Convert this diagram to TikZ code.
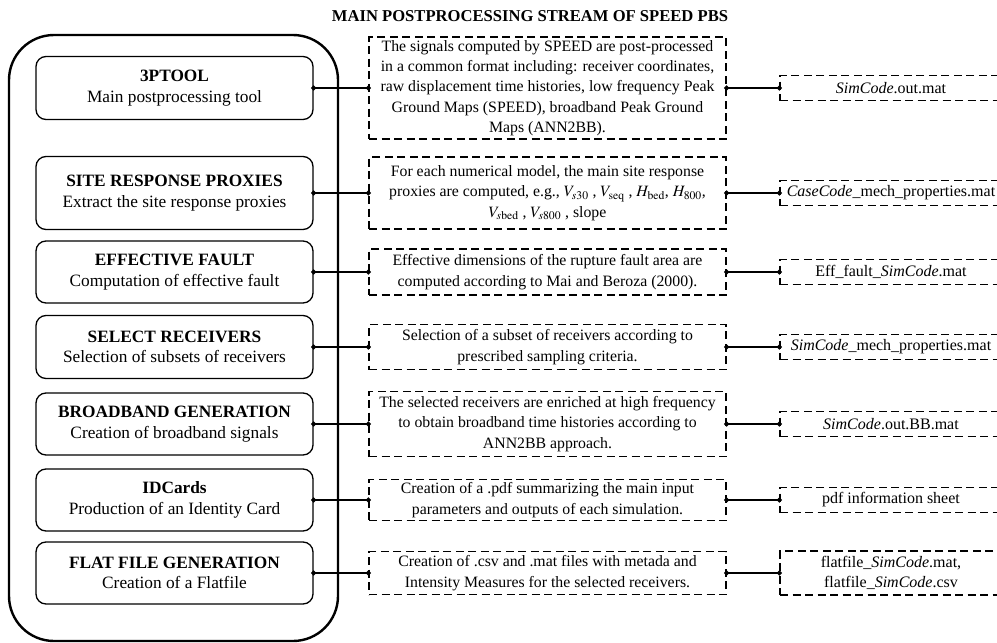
\documentclass[tikz,border=0pt]{standalone}
\usepackage{amsmath}
\usepackage{mathptmx}
\usepackage{fontspec}
\setmainfont{Liberation Serif}
\usetikzlibrary{arrows.meta}

\begin{document}
\begin{tikzpicture}[x=1pt,y=-1pt,
	tool/.style={draw, line width=1.3pt, rounded corners=10pt, minimum width=277pt, align=center, inner sep=0pt, font=\fontsize{17.3}{20.5}\selectfont},
	desc/.style={draw, dash pattern=on 8pt off 4.5pt, line width=1.2pt, minimum width=357pt, align=center, inner sep=0pt, font=\fontsize{15.8}{20.3}\selectfont},
	outfile/.style={desc, minimum width=222pt, font=\fontsize{16}{20.3}\selectfont},
	link/.style={line width=1.4pt, {Circle[length=5pt]}-{Circle[length=5pt]}, shorten <=-2.5pt, shorten >=-2.5pt}]
	\useasboundingbox (0,0) rectangle (997,643);
	\clip (0,0) rectangle (997,643);
	\node[font=\bfseries\fontsize{16.6}{18}\selectfont] (title) at (530,16) {MAIN POSTPROCESSING STREAM OF SPEED PBS};
	\draw[line width=2.4pt, rounded corners=45pt] (9,35) rectangle (338,641);
	% tools
	\node[tool, minimum height=63pt] (tool1) at (174.5,88) {\textbf{3PTOOL}\\Main postprocessing tool};
	\node[tool, minimum height=73pt] (tool2) at (174.5,193) {\textbf{SITE RESPONSE PROXIES}\\Extract the site response proxies};
	\node[tool, minimum height=62pt] (tool3) at (174.5,272) {\textbf{EFFECTIVE FAULT}\\Computation of effective fault};
	\node[tool, minimum height=63pt] (tool4) at (174.5,347) {\textbf{SELECT RECEIVERS}\\Selection of subsets of receivers};
	\node[tool, minimum height=62pt] (tool5) at (174.5,424) {\textbf{BROADBAND GENERATION}\\Creation of broadband signals};
	\node[tool, minimum height=62pt] (tool6) at (174.5,500) {\textbf{IDCards}\\Production of an Identity Card};
	\node[tool, minimum height=62pt] (tool7) at (174.5,573) {\textbf{FLAT FILE GENERATION}\\Creation of a Flatfile};
	% descriptions
	\node[desc, minimum height=102pt] (desc1) at (547.5,88) {The signals computed by SPEED are post-processed\\in a common format including: receiver coordinates,\\raw displacement time histories, low frequency Peak\\Ground Maps (SPEED), broadband Peak Ground\\Maps (ANN2BB).};
	\node[desc, minimum height=72pt] (desc2) at (547.5,193) {For each numerical model, the main site response\\proxies are computed, e.g., $V_{s30}$ , $V_{\mathrm{seq}}$ , $H_{\mathrm{bed}}$, $H_{800}$,\\$V_{s\mathrm{bed}}$ , $V_{s800}$ , slope};
	\node[desc, minimum height=46pt] (desc3) at (547.5,272) {Effective dimensions of the rupture fault area are\\computed according to Mai and Beroza (2000).};
	\node[desc, minimum height=45pt] (desc4) at (547.5,347) {Selection of a subset of receivers according to\\prescribed sampling criteria.};
	\node[desc, minimum height=65pt] (desc5) at (547.5,424) {The selected receivers are enriched at high frequency\\to obtain broadband time histories according to\\ANN2BB approach.};
	\node[desc, minimum height=41pt] (desc6) at (547.5,500) {Creation of a .pdf summarizing the main input\\parameters and outputs of each simulation.};
	\node[desc, minimum height=43pt] (desc7) at (547.5,573) {Creation of .csv and .mat files with metada and\\Intensity Measures for the selected receivers.};
	% output files
	\node[outfile, minimum height=25pt] (out1) at (891,88) {\textit{SimCode}.out.mat};
	\node[outfile, minimum height=25pt] (out2) at (891,193) {\textit{CaseCode}\_mech\_properties.mat};
	\node[outfile, minimum height=25pt] (out3) at (891,272) {Eff\_fault\_\textit{SimCode}.mat};
	\node[outfile, minimum height=25pt] (out4) at (891,347) {\textit{SimCode}\_mech\_properties.mat};
	\node[outfile, minimum height=25pt] (out5) at (891,424) {\textit{SimCode}.out.BB.mat};
	\node[outfile, minimum height=25pt] (out6) at (891,500) {pdf information sheet};
	\node[outfile, minimum height=44pt] (out7) at (891,573) {flatfile\_\textit{SimCode}.mat,\\flatfile\_\textit{SimCode}.csv};
	\foreach \i in {1,...,7} {
		\draw[link] (tool\i) -- (desc\i);
		\draw[link] (desc\i) -- (out\i);
	}
\end{tikzpicture}
\end{document}
